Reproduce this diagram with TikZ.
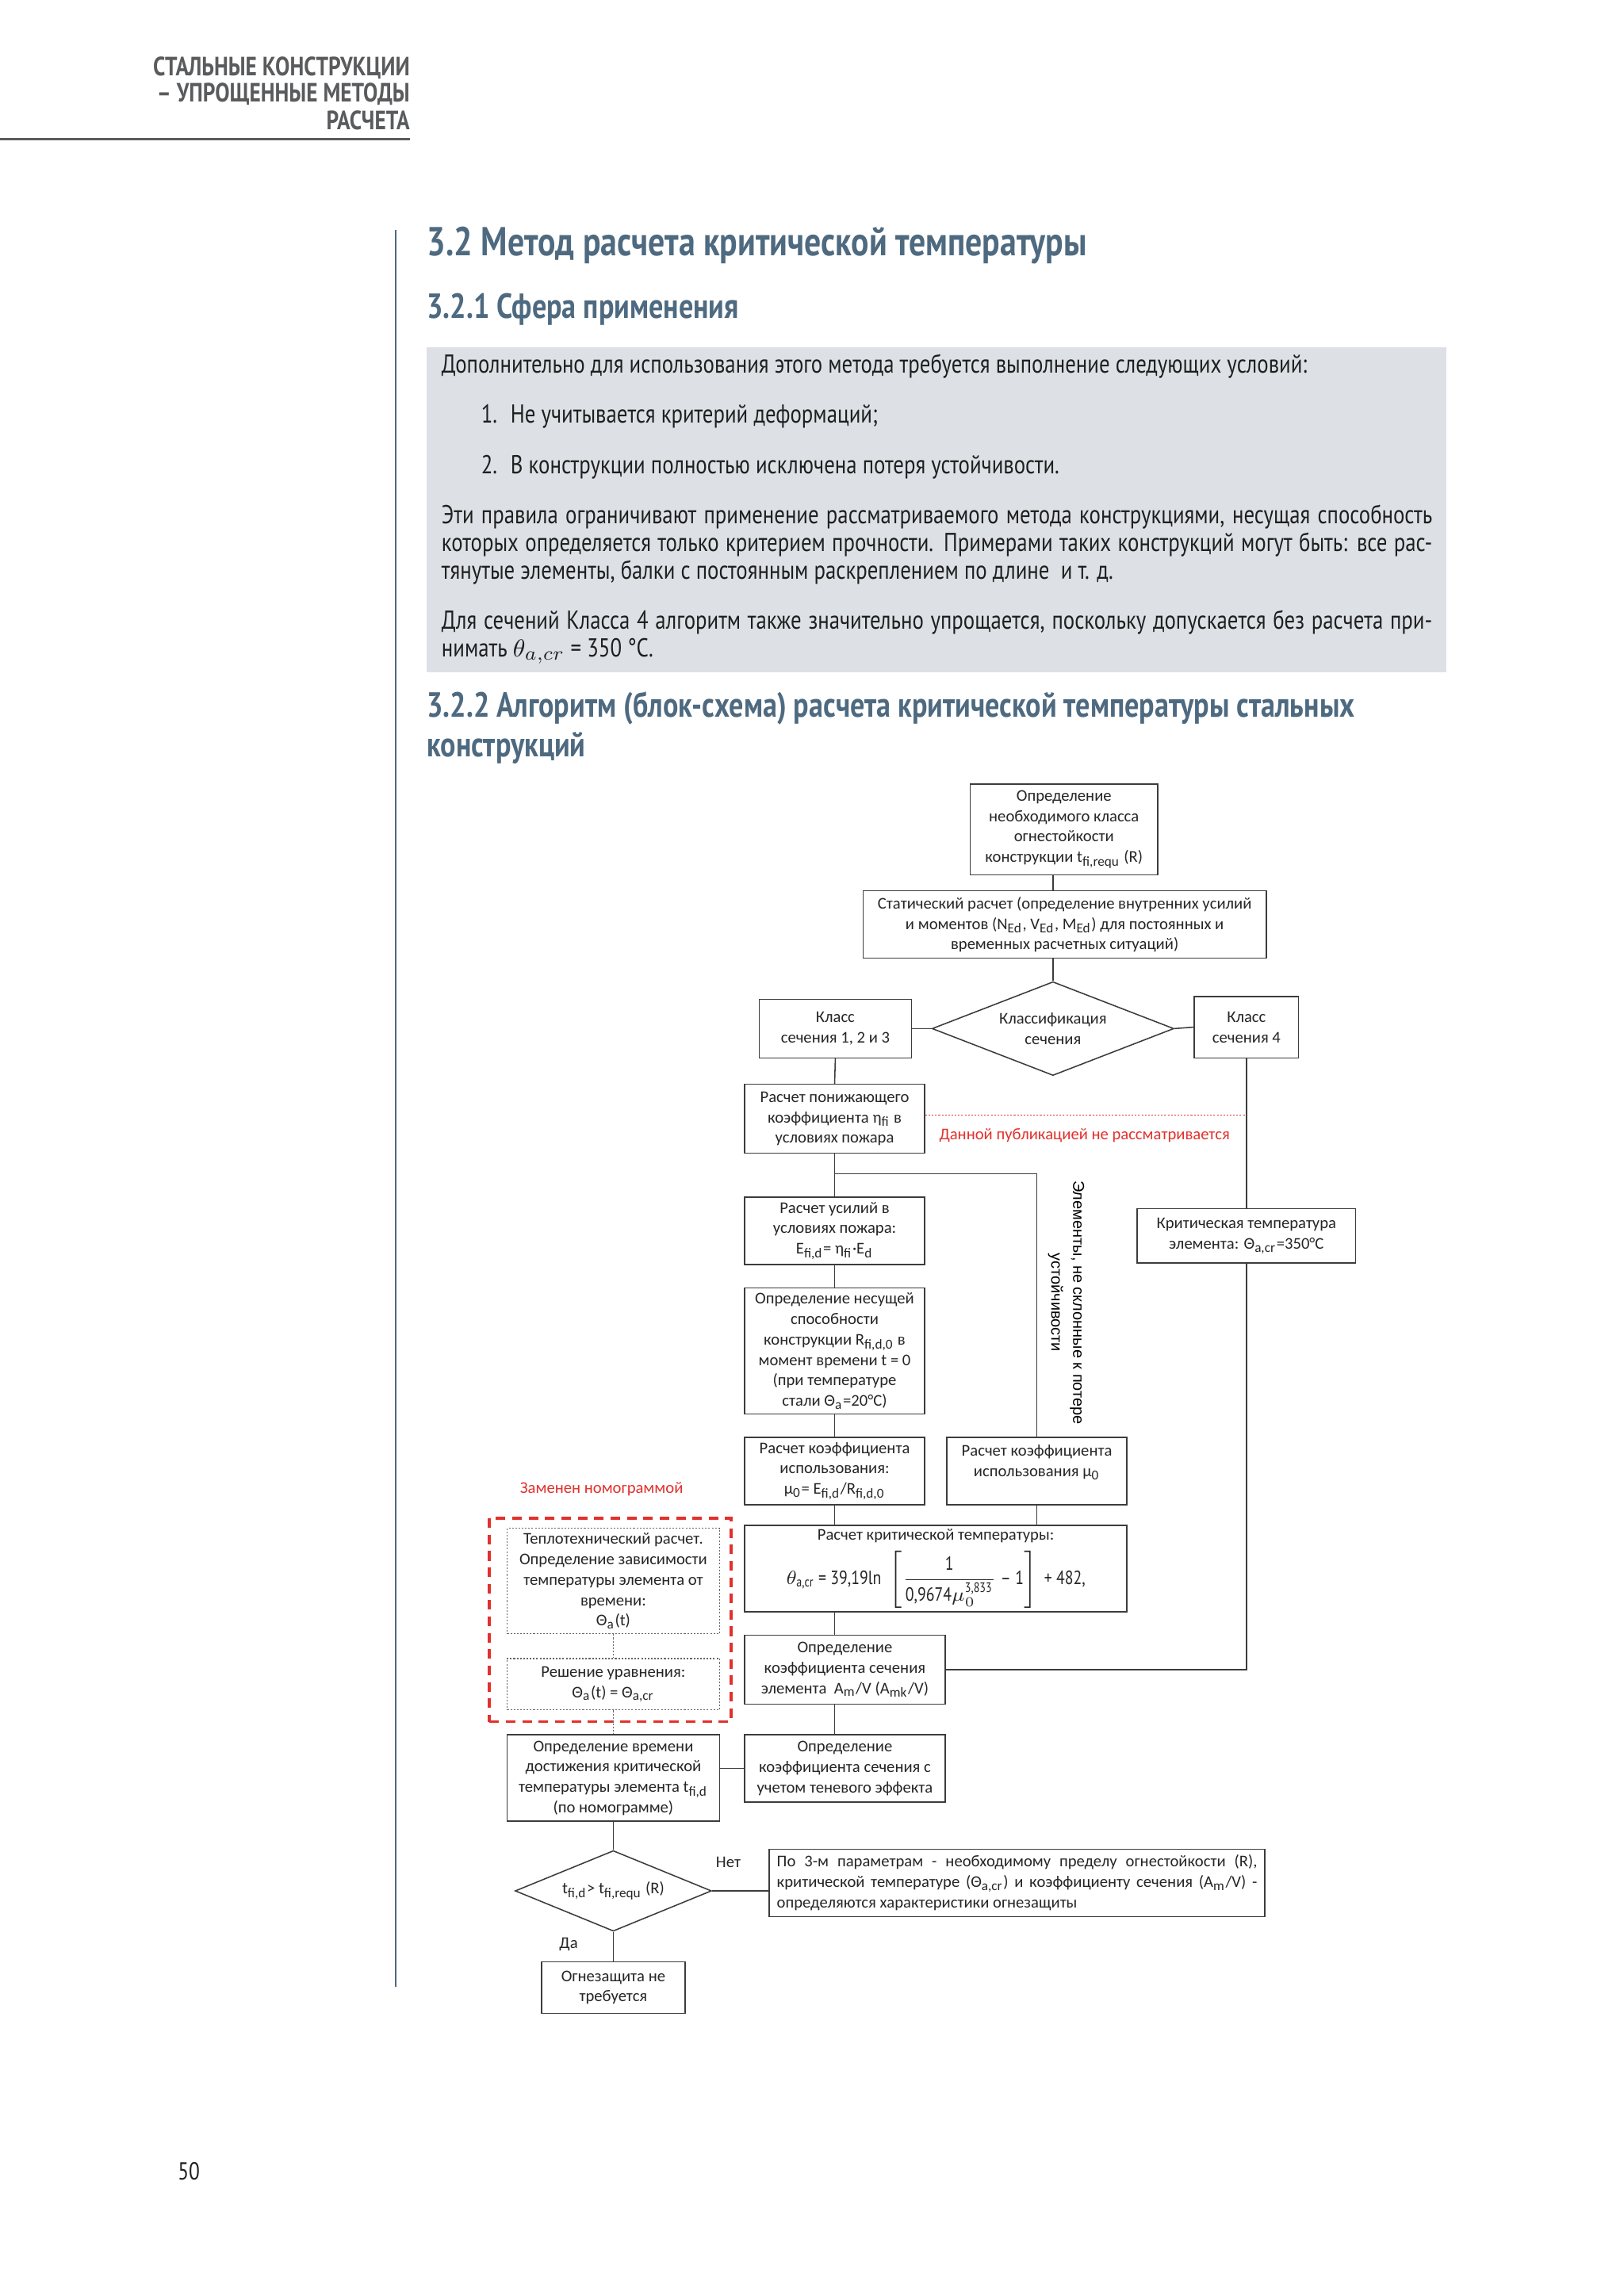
\documentclass[tikz,border=0pt]{standalone}
\usepackage{amsmath}
\usepackage{fontspec}
\setmainfont{Carlito}
\newfontfamily\dinfont[FakeStretch=0.82]{PT Sans}
\newfontfamily\arialfont{Liberation Sans}
\usetikzlibrary{shapes.geometric}

\definecolor{headblue}{HTML}{4E6A80}
\definecolor{headgray}{HTML}{5A5B5D}
\definecolor{boxgray}{HTML}{DDE1E6}
\definecolor{linegray}{HTML}{3C3C3C}
\definecolor{notered}{HTML}{E2312D}

\newcommand\dpx{0.537pt}
\newcommand\sub[1]{\textsubscript{#1}}
\newcommand\jline[1]{\makebox[363pt][s]{#1}}
\newcommand\jfin[1]{\makebox[176pt][s]{#1}}

\tikzset{
  chart/.style={font=\fontsize{6}{7.5}\selectfont, align=center, inner sep=0pt, text=black!85},
  wh/.style 2 args={minimum width=#1*\dpx, minimum height=#2*\dpx},
  blk/.style={chart, draw=linegray, line width=0.45pt},
  dotblk/.style={chart, draw=gray!80!black, line width=0.4pt, dash pattern=on 0.6pt off 0.6pt},
  choice/.style={chart, shape=diamond, draw=linegray, line width=0.45pt, shape aspect=#1},
  zone/.style={draw=notered, line width=1.1pt, dash pattern=on 3.5pt off 2.5pt},
  link/.style={draw=linegray, line width=0.45pt},
  dotlink/.style={draw=gray!80!black, line width=0.4pt, dash pattern=on 0.6pt off 0.6pt},
  note/.style={chart, text=notered},
  head/.style={font=\dinfont\bfseries\fontsize{9.7}{11}\selectfont, text=headgray, anchor=mid east, inner sep=0pt},
  title/.style={font=\dinfont\bfseries\fontsize{14.8}{17}\selectfont, text=headblue, anchor=mid west, inner sep=0pt},
  subtitle/.style={font=\dinfont\bfseries\fontsize{12.8}{15}\selectfont, text=headblue, anchor=mid west, inner sep=0pt},
  body/.style={font=\dinfont\fontsize{9.5}{11}\selectfont, text=black!88, anchor=mid west, inner sep=0pt}
}

\begin{document}
\begin{tikzpicture}[x=\dpx, y=-\dpx]
\useasboundingbox (0, 0) rectangle (1108, 1567);
\fill[white] (0, 0) rectangle (1108, 1567);

% page head
\node[head] (hd1) at (280, 47){СТАЛЬНЫЕ КОНСТРУКЦИИ};
\node[head] (hd2) at (280, 65){– УПРОЩЕННЫЕ МЕТОДЫ};
\node[head] (hd3) at (280, 84){РАСЧЕТА};
\draw[headgray, line width=0.7pt] (0, 95) -- (280, 95);
\draw[headblue, line width=0.8pt] (270, 157) -- (270, 1356);

% text
\node[title] (sec) at (291, 170){3.2 Метод расчета критической температуры};
\node[subtitle] (sub1) at (291, 213){3.2.1 Сфера применения};
\fill[boxgray] (291, 237) rectangle (987, 459);
\node[body] (p1) at (301, 250){Дополнительно для использования этого метода требуется выполнение следующих условий:};
\node[body] (n1) at (328, 284){1.};
\node[body] (i1) at (348, 284){Не учитывается критерий деформаций;};
\node[body] (n2) at (328, 319){2.};
\node[body] (i2) at (348, 319){В конструкции полностью исключена потеря устойчивости.};
\node[body] (p2a) at (301, 353){\jline{Эти правила ограничивают применение рассматриваемого метода конструкциями, несущая способность}};
\node[body] (p2b) at (301, 372){\jline{которых определяется только критерием прочности. Примерами таких конструкций могут быть: все рас-}};
\node[body] (p2c) at (301, 391){тянутые элементы, балки с постоянным раскреплением по длине \ и т. д.};
\node[body] (p3a) at (301, 425){\jline{Для сечений Класса 4 алгоритм также значительно упрощается, поскольку допускается без расчета при-}};
\node[body] (p3b) at (301, 444){нимать $\theta_{a,cr}$ = 350 °C.};
\node[subtitle] (sub2a) at (291, 485){3.2.2 Алгоритм (блок-схема) расчета критической температуры стальных};
\node[subtitle] (sub2b) at (291, 512){конструкций};
\node[body, font=\dinfont\fontsize{9}{11}\selectfont] (page) at (121, 1483){50};

% flowchart
\node[blk, wh={128}{62}] (firecls) at (726, 566){Определение\\необходимого класса\\огнестойкости\\конструкции t\sub{fi,requ} (R)};
\node[blk, wh={275}{46}] (static) at (726.5, 631){Статический расчет (определение внутренних усилий\\и моментов (N\sub{Ed}, V\sub{Ed}, M\sub{Ed}) для постоянных и\\временных расчетных ситуаций)};
\node[choice=2.58, wh={165}{64}] (classify) at (718.5, 702){Классификация\\сечения};
\node[blk, wh={104}{40}] (cls123) at (570, 702){Класс\\сечения 1, 2 и 3};
\node[blk, wh={71}{42}] (cls4) at (850.5, 701){Класс\\сечения 4};
\node[blk, wh={123}{47}] (reduce) at (569.5, 763.5){Расчет понижающего\\коэффициента η\sub{fi} в\\условиях пожара};
\node[note] (notcov) at (740, 775){Данной публикацией не рассматривается};
\node[blk, wh={149}{37}] (crit4) at (850.5, 843.5){Критическая температура\\элемента: Θ\sub{a,cr}=350°C};
\node[blk, wh={123}{46}] (force) at (569.5, 840){Расчет усилий в\\условиях пожара:\\E\sub{fi,d}= η\sub{fi}·E\sub{d}};
\node[blk, wh={123}{86}] (resist) at (569.5, 922){Определение несущей\\способности\\конструкции R\sub{fi,d,0} в\\момент времени t = 0\\(при температуре\\стали Θ\sub{a}=20°C)};
\node[blk, wh={123}{46}] (util) at (569.5, 1004){Расчет коэффициента\\использования:\\μ\sub{0}= E\sub{fi,d}/R\sub{fi,d,0}};
\node[blk, wh={123}{46}] (utilst) at (707.5, 1004){Расчет коэффициента\\использования μ\sub{0}\\~};
\node[rotate=-90, font=\arialfont\fontsize{5.8}{8}\selectfont, align=center, inner sep=0pt] (stable) at (727.5, 889){Элементы, не склонные к потере\\устойчивости};
\node[blk, wh={261}{59}] (crittemp) at (638.5, 1070.5){Расчет критической температуры:\\[2pt]{\dinfont\fontsize{7}{8}\selectfont$\theta_{\text{a,cr}}\,\text{= 39,19ln\ }\left[\dfrac{\text{1}}{\text{0,9674}\mu_{0}^{\text{3,833}}}\text{ – 1}\right]\,\text{+ 482,}$}};
\node[blk, wh={137}{47}] (secfac) at (576.5, 1139.5){Определение\\коэффициента сечения\\элемента \ A\sub{m}/V (A\sub{mk}/V)};
\node[blk, wh={137}{46}] (shadow) at (576.5, 1207){Определение\\коэффициента сечения с\\учетом теневого эффекта};
\node[note] (replaced) at (410.5, 1016){Заменен номограммой};
\node[zone, wh={165}{139}] (nomozone) at (416.5, 1105.5){};
\node[dotblk, wh={145}{72}] (heat) at (418.5, 1079){Теплотехнический расчет.\\Определение зависимости\\температуры элемента от\\времени:\\Θ\sub{a}(t)};
\node[dotblk, wh={145}{35}] (solve) at (418.5, 1149.5){Решение уравнения:\\Θ\sub{a}(t) = Θ\sub{a,cr}};
\node[blk, wh={145}{59}] (nomo) at (418.5, 1213.5){Определение времени\\достижения критической\\температуры элемента t\sub{fi,d}\\(по номограмме)};
\node[choice=2.44, wh={134}{55}] (check) at (418.5, 1290.5){t\sub{fi,d}> t\sub{fi,requ} (R)};
\node[chart] (no) at (497, 1271){Нет};
\node[blk, wh={338}{46}] (protect) at (694, 1285){\jfin{По 3-м параметрам - необходимому пределу огнестойкости (R),}\\\jfin{критической температуре (Θ\sub{a,cr}) и коэффициенту сечения (A\sub{m}/V) -}\\\makebox[176pt][l]{определяются характеристики огнезащиты}};
\node[chart] (yes) at (388, 1327){Да};
\node[blk, wh={98}{35}] (noprot) at (418.5, 1356.5){Огнезащита не\\требуется};
\coordinate (fork) at (569.5, 801);

\draw[link] (firecls.south -| classify) -- (static.north -| classify);
\draw[link] (static.south -| classify) -- (classify.north);
\draw[link] (cls123.east) -- (classify.west);
\draw[link] (classify.east) -- (cls4.west);
\draw[link] (cls123.south) -- (reduce.north);
\draw[notered, line width=0.3pt, dash pattern=on 0.6pt off 0.6pt] (reduce.east |- 0, 761) -- (cls4.south |- 0, 761);
\draw[link] (cls4.south) -- (crit4.north);
\draw[link] (crit4.south) -- (crit4.south |- secfac.east) -- (secfac.east);
\draw[link] (reduce.south) -- (force.north);
\draw[link] (fork) -| (utilst.north);
\draw[link] (force.south) -- (resist.north);
\draw[link] (resist.south) -- (util.north);
\draw[link] (util.south) -- (util.south |- crittemp.north);
\draw[link] (utilst.south) -- (utilst.south |- crittemp.north);
\draw[link] (crittemp.south -| force) -- (secfac.north -| force);
\draw[link] (secfac.south -| force) -- (shadow.north -| force);
\draw[dotlink] (heat.south) -- (solve.north);
\draw[dotlink] (solve.south) -- (nomo.north);
\draw[link] (nomo.east |- shadow.west) -- (shadow.west);
\draw[link] (nomo.south) -- (check.north);
\draw[link] (check.east) -- (check.east -| protect.west);
\draw[link] (check.south) -- (noprot.north);
\end{tikzpicture}
\end{document}
